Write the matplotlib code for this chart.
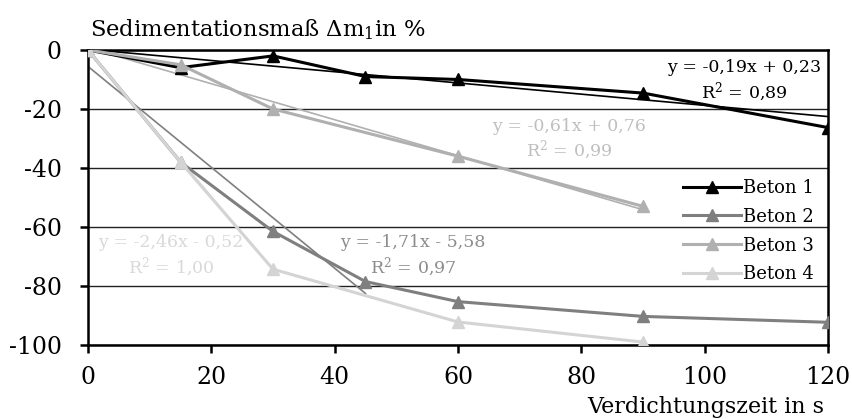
import matplotlib
matplotlib.use('Agg')
import matplotlib.pyplot as plt
import numpy as np

x_b1 = [0, 15, 30, 45, 60, 90, 120]
y_b1 = [0, -6, -2, -9, -10, -14.6, -26.3]
x_b2 = [0, 15, 30, 45, 60, 90, 120]
y_b2 = [0, -38, -61.5, -78.5, -85.3, -90.3, -92.3]
x_b3 = [0, 15, 30, 60, 90]
y_b3 = [0, -5, -20, -36, -53]
x_b4 = [0, 15, 30, 60, 90]
y_b4 = [0, -38, -74.3, -92.2, -99]

labels = ['Beton 1', 'Beton 2', 'Beton 3', 'Beton 4']
colors = ['#000000', '#7f7f7f', '#b0b0b0', '#d4d4d4']
eq_colors = ['#000000', '#8c8c8c', '#bfbfbf', '#d9d9d9']

# linear trend lines: slope, intercept, x range
trend_slope = [-0.19, -1.71, -0.61, -2.46]
trend_icpt = [0.23, -5.58, 0.76, -0.52]
trend_xmax = [120, 45, 90, 30]
eq_text = ['y = -0,19x + 0,23\nR$^2$ = 0,89',
           'y = -1,71x - 5,58\nR$^2$ = 0,97',
           'y = -0,61x + 0,76\nR$^2$ = 0,99',
           'y = -2,46x - 0,52\nR$^2$ = 1,00']
eq_pos = [(106.4, -10.7), (52.7, -70), (78, -30.5), (13.5, -70)]

plt.rcParams['font.family'] = ['DejaVu Serif']
plt.rcParams['mathtext.fontset'] = 'dejavuserif'
plt.rcParams['axes.unicode_minus'] = False

fig = plt.figure(figsize=(8.52, 4.19), dpi=100)
ax = fig.add_axes([0.1033, 0.1766, 0.8685, 0.7041])

xs = [x_b1, x_b2, x_b3, x_b4]
ys = [y_b1, y_b2, y_b3, y_b4]

# trend lines first (thin)
for i in range(4):
    tx = np.array([0, trend_xmax[i]])
    ty = trend_slope[i] * tx + trend_icpt[i]
    ax.plot(tx, ty, color=colors[i], linewidth=1.2, zorder=2)

for i in range(4):
    ax.plot(xs[i], ys[i], color=colors[i], linewidth=2.2, marker='^',
            markersize=9, label=labels[i], zorder=3)

for i in range(4):
    ax.text(eq_pos[i][0], eq_pos[i][1], eq_text[i], color=eq_colors[i],
            fontsize=12.5, ha='center', va='center', linespacing=1.25,
            zorder=4)

ax.set_xlim(0, 120)
ax.set_ylim(-100, 0)
ax.set_xticks(np.arange(0, 121, 20))
ax.set_yticks(np.arange(-100, 1, 20))
ax.yaxis.grid(True, color='#222222', linewidth=1.0)
ax.set_axisbelow(True)
for s in ['left', 'bottom', 'right', 'top']:
    ax.spines[s].set_linewidth(1.8)
    ax.spines[s].set_color('black')
ax.tick_params(axis='both', direction='out', length=6, width=1.8,
               labelsize=17)
ax.tick_params(axis='y', pad=13)
ax.tick_params(axis='x', pad=9)

ax.legend(loc='center left', bbox_to_anchor=(0.804, 0.386), frameon=False,
          fontsize=13, handlelength=3.2, handletextpad=0.1,
          labelspacing=0.6, borderaxespad=0, borderpad=0, markerscale=0.9)

fig.text(0.1056, 0.914, 'Sedimentationsmaß Δm$_1$in %', fontsize=16.3,
         ha='left', va='baseline')
fig.text(0.968, 0.0143, 'Verdichtungszeit in s', fontsize=16,
         ha='right', va='baseline')

fig.savefig('out.png', dpi=100)
